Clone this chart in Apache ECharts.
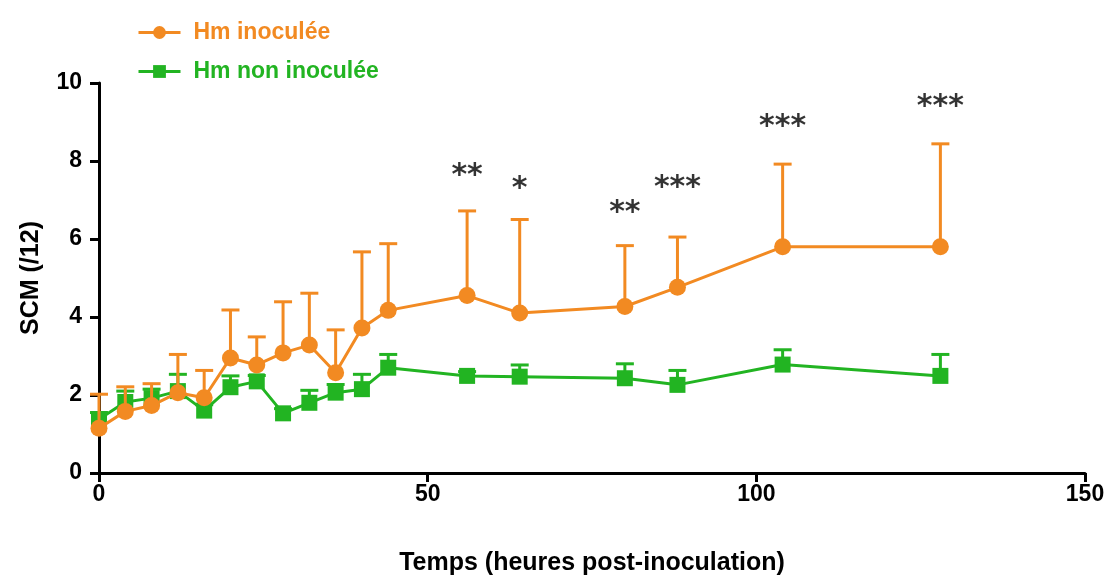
<!DOCTYPE html>
<html>
<head>
<meta charset="utf-8">
<script src="https://cdn.jsdelivr.net/npm/echarts@6/dist/echarts.min.js"></script>
<style>
html,body{margin:0;padding:0;background:#fff;}
#chart{width:1110px;height:581px;}
</style>
</head>
<body>
<div id="chart"></div>
<script>
// temps (heures)
var hours = [0, 4, 8, 12, 16, 20, 24, 28, 32, 36, 40, 44, 56, 64, 80, 88, 104, 128];
// moyennes SCM
var inocMean = [1.15, 1.58, 1.73, 2.06, 1.93, 2.95, 2.77, 3.08, 3.28, 2.57, 3.72, 4.17, 4.55, 4.10, 4.27, 4.76, 5.80, 5.80];
var inocTop = [2.02, 2.21, 2.29, 3.04, 2.63, 4.18, 3.49, 4.39, 4.61, 3.67, 5.67, 5.88, 6.72, 6.50, 5.83, 6.05, 7.92, 8.44];
var nonMean = [1.38, 1.82, 1.92, 2.10, 1.60, 2.20, 2.35, 1.53, 1.80, 2.06, 2.15, 2.70, 2.49, 2.47, 2.43, 2.26, 2.78, 2.49];
var nonTop = [1.55, 2.10, 2.15, 2.53, 1.75, 2.49, 2.50, 1.65, 2.12, 2.27, 2.53, 3.04, 2.60, 2.77, 2.80, 2.63, 3.16, 3.04];
// significativite
var starHours = [56, 64, 80, 88, 104, 128];
var starText = ['**', '*', '**', '***', '***', '***'];
var starY = [7.62, 7.28, 6.66, 7.30, 8.86, 9.38];

var ORANGE = '#F28A22';
var GREEN = '#22B422';
var FONT = 'Liberation Sans, Arial';

function pairs(xs, ys) {
	var out = [];
	for (var i = 0; i < xs.length; i++) {
		out.push([xs[i], ys[i]]);
	}
	return out;
}

function errBars(xs, means, tops) {
	var out = [];
	for (var i = 0; i < xs.length; i++) {
		out.push([xs[i], means[i], tops[i]]);
	}
	return out;
}

function errRender(color) {
	return function(params, api) {
		var p0 = api.coord([api.value(0), api.value(1)]);
		var p1 = api.coord([api.value(0), api.value(2)]);
		var half = 9;
		var st = { stroke: color, lineWidth: 3 };
		return {
			type: 'group',
			children: [
				{ type: 'line', shape: { x1: p0[0], y1: p0[1], x2: p1[0], y2: p1[1] }, style: st },
				{ type: 'line', shape: { x1: p1[0] - half, y1: p1[1], x2: p1[0] + half, y2: p1[1] }, style: st }
			]
		};
	};
}

var stars = [];
for (var i = 0; i < starHours.length; i++) {
	stars.push({ value: [starHours[i], starY[i]], name: starText[i] });
}

var axisTxt = { color: '#000', fontSize: 23, fontFamily: FONT, fontWeight: 'bold' };

var option = {
	animation: false,
	backgroundColor: '#fff',
	grid: { left: 99, right: 25, top: 83, bottom: 105 },
	legend: {
		orient: 'vertical',
		left: 132,
		top: 16,
		itemGap: 16,
		itemWidth: 42,
		itemHeight: 16,
		lineStyle: { width: 3 },
		data: [
			{ name: 'Hm inoculée', textStyle: { color: ORANGE } },
			{ name: 'Hm non inoculée', textStyle: { color: GREEN } }
		],
		textStyle: { fontSize: 23, fontWeight: 'bold', fontFamily: FONT, padding: [0, 0, 0, 8] }
	},
	xAxis: {
		type: 'value',
		min: 0,
		max: 150,
		interval: 50,
		name: 'Temps (heures post-inoculation)',
		nameLocation: 'middle',
		nameGap: 78,
		nameTextStyle: { color: '#000', fontSize: 25, fontWeight: 'bold', fontFamily: FONT },
		axisLine: { lineStyle: { color: '#000', width: 3 } },
		axisTick: { length: 9, lineStyle: { color: '#000', width: 3 } },
		axisLabel: Object.assign({ margin: 10 }, axisTxt),
		splitLine: { show: false }
	},
	yAxis: {
		type: 'value',
		min: 0,
		max: 10,
		interval: 2,
		name: 'SCM (/12)',
		nameLocation: 'middle',
		nameGap: 55,
		nameRotate: 90,
		nameTextStyle: { color: '#000', fontSize: 25, fontWeight: 'bold', fontFamily: FONT },
		axisLine: { show: true, lineStyle: { color: '#000', width: 3 } },
		axisTick: { show: true, length: 9, lineStyle: { color: '#000', width: 3 } },
		axisLabel: Object.assign({ margin: 17 }, axisTxt),
		splitLine: { show: false }
	},
	series: [
		{
			name: 'err_non',
			type: 'custom',
			renderItem: errRender(GREEN),
			data: errBars(hours, nonMean, nonTop),
			encode: { x: 0, y: [1, 2] },
			z: 2
		},
		{
			name: 'Hm non inoculée',
			type: 'line',
			data: pairs(hours, nonMean),
			symbol: 'rect',
			symbolSize: 16,
			itemStyle: { color: GREEN },
			lineStyle: { color: GREEN, width: 3 },
			z: 3
		},
		{
			name: 'err_inoc',
			type: 'custom',
			renderItem: errRender(ORANGE),
			data: errBars(hours, inocMean, inocTop),
			encode: { x: 0, y: [1, 2] },
			z: 4
		},
		{
			name: 'Hm inoculée',
			type: 'line',
			data: pairs(hours, inocMean),
			symbol: 'circle',
			symbolSize: 17,
			itemStyle: { color: ORANGE },
			lineStyle: { color: ORANGE, width: 3 },
			z: 5
		},
		{
			name: 'stars',
			type: 'scatter',
			data: stars,
			symbolSize: 0,
			silent: true,
			label: {
				show: true,
				position: 'inside',
				formatter: function(p) { return p.name; },
				color: '#000',
				fontSize: 30,
				fontWeight: 'bold',
				fontFamily: 'DejaVu Sans'
			},
			z: 6
		}
	]
};

var myChart = echarts.init(document.getElementById('chart'));
myChart.setOption(option);
</script>
</body>
</html>
